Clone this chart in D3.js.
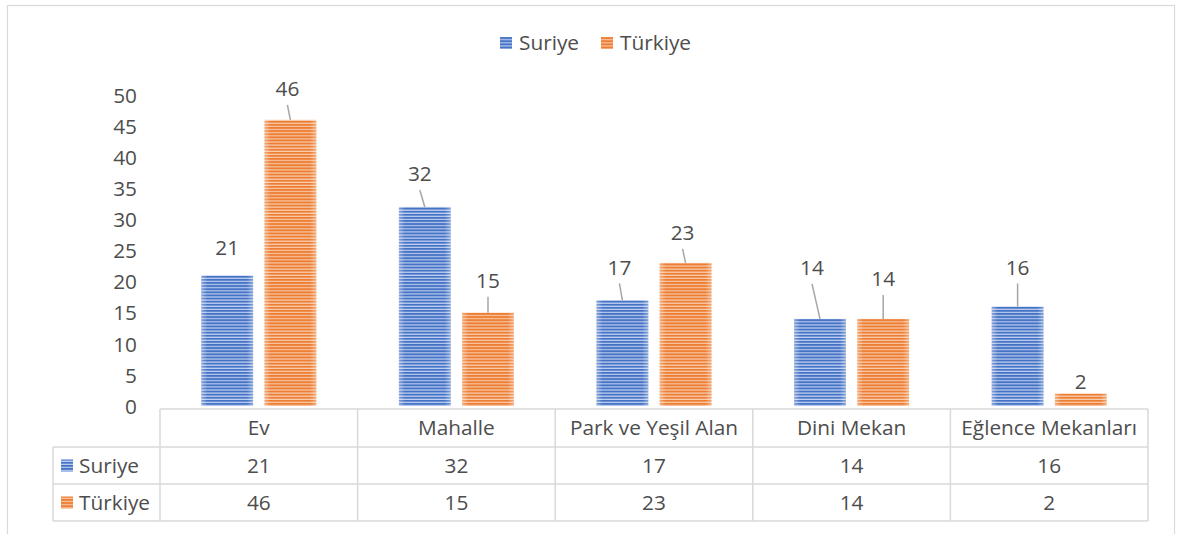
<!DOCTYPE html>
<html>
<head>
<meta charset="utf-8">
<script src="https://cdn.jsdelivr.net/npm/d3@7"></script>
<style>
  body { margin: 0; background: #fff; }
  svg text { font-family: "Open Sans", sans-serif; fill: #4d4d4d; }
</style>
</head>
<body>
<div class="chart"></div>
<script>
// data
const categories = ["Ev", "Mahalle", "Park ve Yeşil Alan", "Dini Mekan", "Eğlence Mekanları"];
const seriesNames = ["Suriye", "Türkiye"];
const suriye = [21, 32, 17, 14, 16];
const turkiye = [46, 15, 23, 14, 2];
const yTicks = [0, 5, 10, 15, 20, 25, 30, 35, 40, 45, 50];

// manual label nudges (pixels above bar top, horizontal shift) like the excel labels
const labelLift = [[28, 33, 33, 51, 39], [31, 32, 30, 40, 12]];
const labelShift = [[0, -5, -3, -8, 0], [-3, 0, -3, 0, 0]];

const colors = ["#4472C4", "#ED7D31"];
const lightColors = ["#bfcff0", "#f8cbad"];
const fontSize = 20.8;

const width = 1182, height = 534;
const margin = ({top: 95, right: 34, bottom: 128, left: 160});

const svg = d3.select(".chart")
    .append("svg")
    .attr("width", width)
    .attr("height", height);

// stripe patterns
const defs = svg.append("defs");
colors.forEach((c, i) => {
    const p = defs.append("pattern")
        .attr("id", "stripe" + i)
        .attr("patternUnits", "userSpaceOnUse")
        .attr("width", 8).attr("height", 3.1);
    p.append("rect").attr("width", 8).attr("height", 3.1).attr("fill", lightColors[i]);
    p.append("rect").attr("width", 8).attr("height", 1.9).attr("fill", c);
});
const grad = defs.append("linearGradient").attr("id", "shine");
grad.append("stop").attr("offset", "0%").attr("stop-color", "#fff").attr("stop-opacity", 0.35);
grad.append("stop").attr("offset", "12%").attr("stop-color", "#fff").attr("stop-opacity", 0);
grad.append("stop").attr("offset", "88%").attr("stop-color", "#fff").attr("stop-opacity", 0);
grad.append("stop").attr("offset", "100%").attr("stop-color", "#fff").attr("stop-opacity", 0.35);

// outer border
svg.append("rect")
    .attr("x", 7.5).attr("y", 5.5)
    .attr("width", 1167).attr("height", 540)
    .attr("fill", "none")
    .attr("stroke", "#d9d9d9")
    .attr("stroke-width", 1.2);

const plotW = width - margin.left - margin.right;
const plotBottom = 406;

const xScale = d3.scaleBand()
    .domain(categories)
    .range([margin.left, margin.left + plotW]);

const xSub = d3.scaleBand()
    .domain(seriesNames)
    .range([0, 115])
    .paddingInner(0.18);

const yScale = d3.scaleLinear()
    .domain([0, 50])
    .range([plotBottom, margin.top]);

// y axis labels only
const yAxis = d3.axisLeft(yScale).tickValues(yTicks).tickSize(0).tickPadding(0);
const yg = svg.append("g")
    .attr("transform", "translate(137,0)")
    .call(yAxis);
yg.select(".domain").remove();
yg.selectAll("text")
    .attr("font-size", fontSize)
    .style("font-family", "'Open Sans', sans-serif")
    .attr("fill", "#4d4d4d")
    .attr("dy", "0.35em");

const allSeries = [suriye, turkiye];

allSeries.forEach((vals, si) => {
    const g = svg.append("g");
    const bx = (d, i) => xScale(categories[i]) + (xScale.bandwidth() - 115) / 2 + xSub(seriesNames[si]);
    g.selectAll("rect.bar")
        .data(vals)
        .enter()
        .append("rect")
        .attr("class", "bar")
        .attr("x", bx)
        .attr("y", d => yScale(d))
        .attr("width", xSub.bandwidth())
        .attr("height", d => plotBottom - yScale(d))
        .attr("fill", `url(#stripe${si})`);
    g.selectAll("rect.shine")
        .data(vals)
        .enter()
        .append("rect")
        .attr("class", "shine")
        .attr("x", bx)
        .attr("y", d => yScale(d))
        .attr("width", xSub.bandwidth())
        .attr("height", d => plotBottom - yScale(d))
        .attr("fill", "url(#shine)");

    // value labels with leader lines
    vals.forEach((d, i) => {
        const cx = bx(d, i) + xSub.bandwidth() / 2;
        const top = yScale(d);
        const ly = top - labelLift[si][i];
        const lx = cx + labelShift[si][i];
        if (labelLift[si][i] > 29) {
            g.append("line")
                .attr("x1", cx).attr("y1", top)
                .attr("x2", lx).attr("y2", ly + 16)
                .attr("stroke", "#a6a6a6")
                .attr("stroke-width", 1.5);
        }
        g.append("text")
            .attr("x", lx)
            .attr("y", ly)
            .attr("dy", "0.35em")
            .attr("text-anchor", "middle")
            .attr("font-size", fontSize)
            .text(d);
    });
});

// legend at the top
const legend = svg.append("g");
const legendX = [500, 601];
seriesNames.forEach((name, i) => {
    legend.append("rect")
        .attr("x", legendX[i]).attr("y", 37)
        .attr("width", 12).attr("height", 12)
        .attr("fill", `url(#stripe${i})`);
    legend.append("text")
        .attr("x", legendX[i] + 19).attr("y", 43)
        .attr("dy", "0.35em")
        .attr("font-size", fontSize)
        .text(name);
});

// data table
const table = svg.append("g");
const rowY = [409, 447, 484, 521];
const tableLeft = 53;
const lineColor = "#d9d9d9";
const hl = (x1, x2, y) => table.append("line")
    .attr("x1", x1).attr("x2", x2).attr("y1", y).attr("y2", y)
    .attr("stroke", lineColor).attr("stroke-width", 1.5);
const vl = (x, y1, y2) => table.append("line")
    .attr("x1", x).attr("x2", x).attr("y1", y1).attr("y2", y2)
    .attr("stroke", lineColor).attr("stroke-width", 1.5);

hl(margin.left, margin.left + plotW, rowY[0]);
hl(tableLeft, margin.left + plotW, rowY[1]);
hl(tableLeft, margin.left + plotW, rowY[2]);
hl(tableLeft, margin.left + plotW, rowY[3]);
vl(tableLeft, rowY[1], rowY[3]);
categories.forEach(c => vl(xScale(c), rowY[0], rowY[3]));
vl(margin.left + plotW, rowY[0], rowY[3]);

table.selectAll("text.cat")
    .data(categories)
    .enter()
    .append("text")
    .attr("class", "cat")
    .attr("x", d => xScale(d) + xScale.bandwidth() / 2)
    .attr("y", (rowY[0] + rowY[1]) / 2)
    .attr("dy", "0.35em")
    .attr("text-anchor", "middle")
    .attr("font-size", fontSize)
    .text(d => d);

allSeries.forEach((vals, si) => {
    const yMid = (rowY[si + 1] + rowY[si + 2]) / 2;
    table.append("rect")
        .attr("x", 61).attr("y", yMid - 6)
        .attr("width", 12).attr("height", 12)
        .attr("fill", `url(#stripe${si})`);
    table.append("text")
        .attr("x", 79).attr("y", yMid)
        .attr("dy", "0.35em")
        .attr("font-size", fontSize)
        .text(seriesNames[si]);
    table.selectAll("text.v" + si)
        .data(vals)
        .enter()
        .append("text")
        .attr("class", "v" + si)
        .attr("x", (d, i) => xScale(categories[i]) + xScale.bandwidth() / 2)
        .attr("y", yMid)
        .attr("dy", "0.35em")
        .attr("text-anchor", "middle")
        .attr("font-size", fontSize)
        .text(d => d);
});
</script>
</body>
</html>
